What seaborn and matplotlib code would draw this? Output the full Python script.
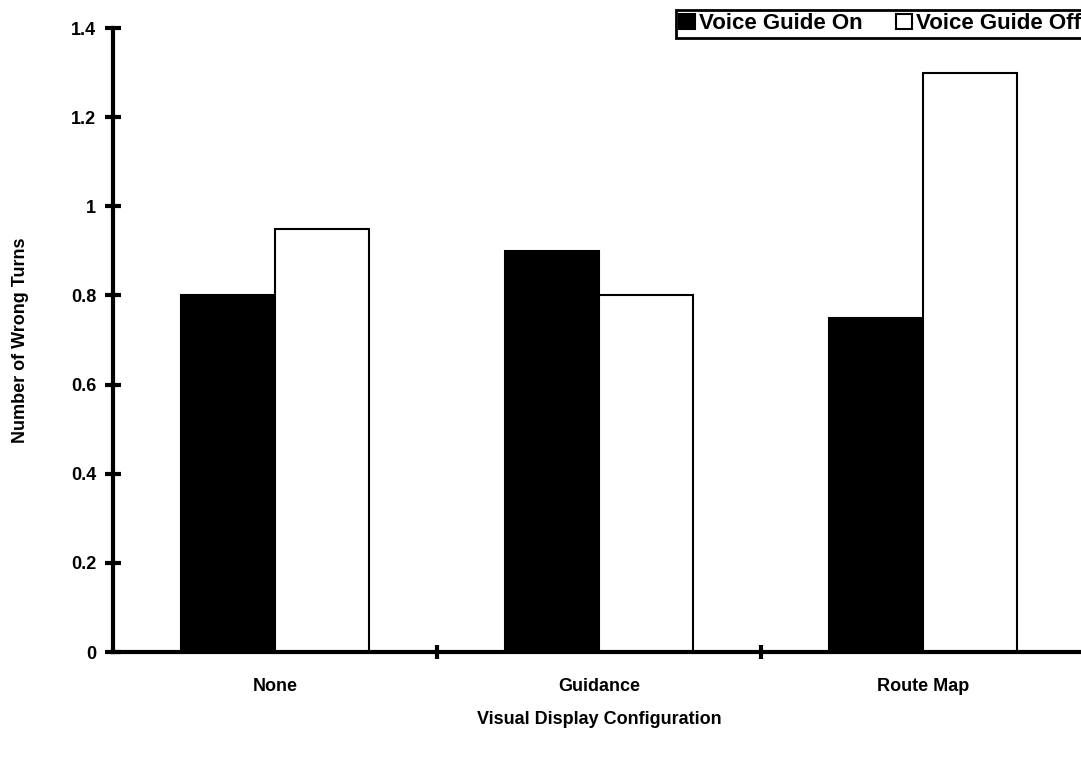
import pandas as pd
import matplotlib.pyplot as plt
import seaborn as sns

configs = ["None", "Guidance", "Route Map"]
voice_on = [0.80, 0.90, 0.75]
voice_off = [0.95, 0.80, 1.30]

df = pd.DataFrame({
    "Config": configs * 2,
    "Turns": voice_on + voice_off,
    "Voice": ["Voice Guide On"] * 3 + ["Voice Guide Off"] * 3,
})

sns.set_style("white")
plt.rcParams['font.family'] = ['Liberation Sans', 'DejaVu Sans']
plt.rcParams['font.weight'] = 'bold'
plt.rcParams['text.color'] = 'black'
plt.rcParams['axes.labelcolor'] = 'black'
plt.rcParams['xtick.color'] = 'black'
plt.rcParams['ytick.color'] = 'black'

fig = plt.figure(figsize=(10.81, 7.57), dpi=100)
ax = fig.add_axes([0.1045, 0.1387, 0.8995, 0.8243])

sns.barplot(data=df, x="Config", y="Turns", hue="Voice", order=configs,
            hue_order=["Voice Guide On", "Voice Guide Off"],
            palette=["black", "white"], edgecolor="black", linewidth=1.5,
            width=0.58, gap=0, ax=ax, legend=True)

ax.set_xlim(-0.5, 2.5)
ax.set_ylim(0, 1.4)
ax.set_yticks([0, 0.2, 0.4, 0.6, 0.8, 1.0, 1.2, 1.4])
ax.set_yticklabels(["0", "0.2", "0.4", "0.6", "0.8", "1", "1.2", "1.4"], fontsize=13, fontweight='bold')
ax.set_xticks([0, 1, 2])
ax.set_xticklabels(configs, fontsize=13, fontweight='bold')
ax.set_xticks([0.5, 1.5], minor=True)
ax.tick_params(axis='x', which='major', bottom=True, length=0, pad=19)
ax.tick_params(axis='x', which='minor', bottom=True, length=10, width=3, direction='inout', color='black')
ax.tick_params(axis='y', left=True, length=12, width=3, direction='inout', color='black', pad=6)

for s in ['top', 'right']:
    ax.spines[s].set_visible(False)
for s in ['left', 'bottom']:
    ax.spines[s].set_linewidth(3)
    ax.spines[s].set_color('black')
ax.spines['bottom'].set_zorder(5)

ax.set_xlabel("Visual Display Configuration", fontsize=13, fontweight='bold', labelpad=11)
ax.set_ylabel("Number of Wrong Turns", fontsize=13, fontweight='bold', labelpad=30)

leg = ax.legend(loc='upper right', bbox_to_anchor=(0.9995, 1.029), ncol=2, frameon=True,
                fancybox=False, edgecolor='black', framealpha=1, fontsize=16, handlelength=0.7,
                handleheight=0.7, handletextpad=0.2, columnspacing=1.5, borderpad=0.15,
                borderaxespad=0)
leg.get_frame().set_linewidth(2)
for t in leg.get_texts():
    t.set_fontweight('bold')

fig.savefig("out.png", dpi=100)
